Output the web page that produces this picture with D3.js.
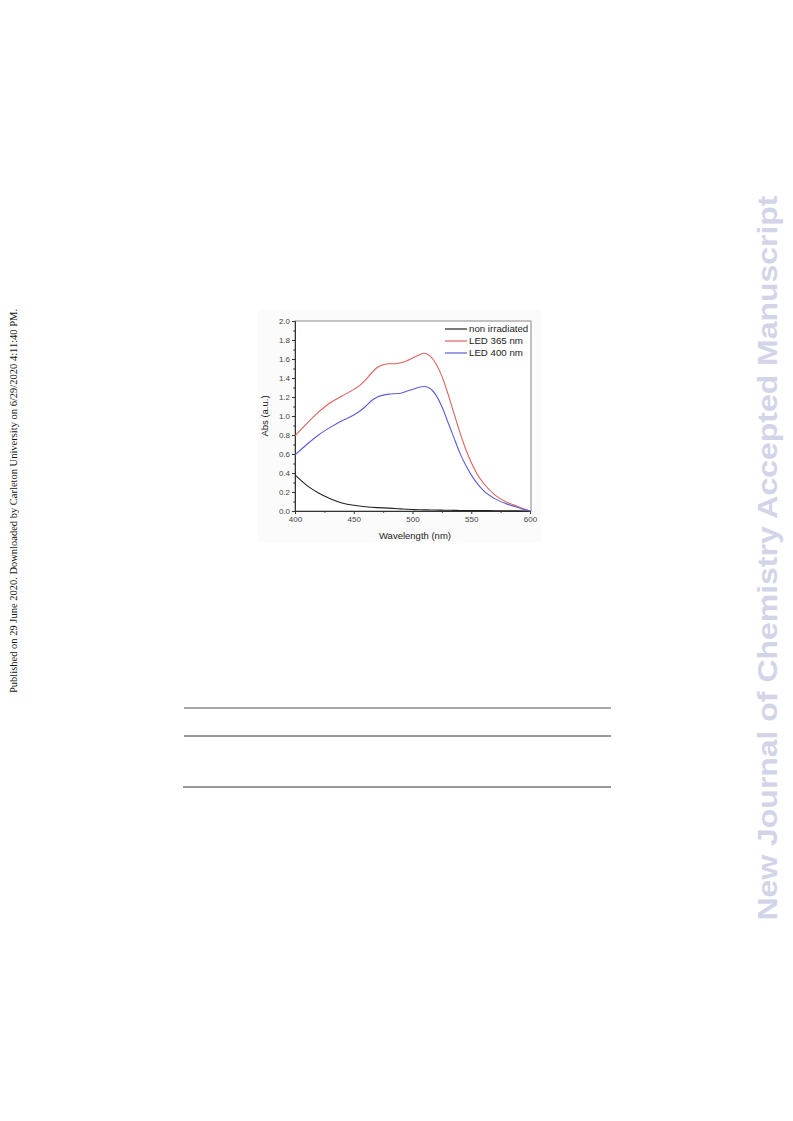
<!DOCTYPE html>
<html><head><meta charset="utf-8">
<script src="https://cdn.jsdelivr.net/npm/d3@7"></script>
<style>html,body{margin:0;padding:0;background:#fff;}svg{display:block;}</style>
</head><body>
<svg id="c" width="793" height="1121"></svg>
<script>
const wavelengths = [400,410,420,430,440,450,455,460,465,470,475,480,485,490,495,500,505,510,515,520,525,530,535,540,545,550,555,560,570,580,590,600];
const nonIrradiated = [0.38,0.27,0.19,0.13,0.085,0.06,0.052,0.045,0.04,0.036,0.033,0.03,0.026,0.022,0.018,0.015,0.013,0.012,0.011,0.01,0.009,0.008,0.007,0.006,0.0055,0.005,0.0045,0.004,0.003,0.002,0.001,0.0];
const led365 = [0.79,0.92,1.04,1.14,1.21,1.28,1.32,1.38,1.45,1.51,1.54,1.55,1.55,1.56,1.58,1.61,1.64,1.66,1.63,1.55,1.42,1.24,1.04,0.84,0.66,0.51,0.39,0.30,0.17,0.095,0.045,0.0];
const led400 = [0.59,0.70,0.80,0.88,0.95,1.01,1.05,1.10,1.16,1.20,1.22,1.23,1.235,1.24,1.26,1.28,1.30,1.31,1.29,1.22,1.10,0.94,0.78,0.62,0.49,0.38,0.29,0.22,0.13,0.075,0.035,0.0];
const seriesNames = ["non irradiated","LED 365 nm","LED 400 nm"];
const seriesColors = ["#222222","#e0605c","#5c5cd8"];
const xTicks = [400,450,500,550,600];
const yTicks = [0.0,0.2,0.4,0.6,0.8,1.0,1.2,1.4,1.6,1.8,2.0];

const svg = d3.select("#c");

// figure background
svg.append("rect").attr("x",258).attr("y",310).attr("width",283).attr("height",232).attr("fill","#fbfbfb");

const x = d3.scaleLinear().domain([400,600]).range([295,530]);
const y = d3.scaleLinear().domain([0,2]).range([511,321]);

// plot box
svg.append("rect").attr("x",295).attr("y",321).attr("width",236).attr("height",190)
  .attr("fill","#fff").attr("stroke","#888").attr("stroke-width",1);

const font = "Liberation Sans, Arial, sans-serif";

// y axis
const yAx = svg.append("g").attr("transform","translate(295,0)")
  .call(d3.axisLeft(y).tickValues(yTicks).tickFormat(d3.format(".1f")).tickSize(3).tickPadding(2));
yAx.selectAll("text").attr("font-size",8).attr("font-family",font).attr("fill","#444");
yAx.select(".domain").attr("stroke","#333");
yAx.selectAll("line").attr("stroke","#333");
svg.append("g").attr("transform","translate(295,0)")
  .call(d3.axisLeft(y).tickValues(d3.range(0.1,2.0,0.2)).tickFormat("").tickSize(1.8))
  .call(g=>{g.select(".domain").remove();g.selectAll("line").attr("stroke","#333");});

// x axis
const xAx = svg.append("g").attr("transform","translate(0,511)")
  .call(d3.axisBottom(x).tickValues(xTicks).tickFormat(d3.format("d")).tickSize(3).tickPadding(2));
xAx.selectAll("text").attr("font-size",8).attr("font-family",font).attr("fill","#444");
xAx.select(".domain").attr("stroke","#333");
xAx.selectAll("line").attr("stroke","#333");
svg.append("g").attr("transform","translate(0,511)")
  .call(d3.axisBottom(x).tickValues([425,475,525,575]).tickFormat("").tickSize(1.8))
  .call(g=>{g.select(".domain").remove();g.selectAll("line").attr("stroke","#333");});

// axis labels
svg.append("text").attr("x",415).attr("y",539).attr("text-anchor","middle")
  .attr("font-size",9.5).attr("font-family",font).attr("fill","#222").text("Wavelength (nm)");
svg.append("text").attr("transform","translate(268,416) rotate(-90)").attr("text-anchor","middle")
  .attr("font-size",9.5).attr("font-family",font).attr("fill","#222").text("Abs (a.u.)");

// lines
const line = d3.line().x((d,i)=>x(wavelengths[i])).y(d=>y(d)).curve(d3.curveMonotoneX);
[nonIrradiated, led365, led400].forEach((s,k)=>{
  svg.append("path").attr("d",line(s)).attr("fill","none")
    .attr("stroke",seriesColors[k]).attr("stroke-width",1.1);
});

// legend
seriesNames.forEach((n,k)=>{
  const yy = 329 + k*12;
  svg.append("line").attr("x1",445).attr("x2",467).attr("y1",yy).attr("y2",yy)
    .attr("stroke",seriesColors[k]).attr("stroke-width",1.2);
  svg.append("text").attr("x",469).attr("y",yy+3.4).attr("font-size",9.7)
    .attr("font-family",font).attr("fill","#222").text(n);
});

// left publication note
svg.append("text").attr("transform","translate(17,501) rotate(-90)").attr("text-anchor","middle")
  .attr("font-size",10.5).attr("font-family","Liberation Serif, Times New Roman, serif").attr("fill","#111")
  .text("Published on 29 June 2020. Downloaded by Carleton University on 6/29/2020 4:11:40 PM.");

// right watermark
svg.append("text").attr("transform","translate(777,558) rotate(-90)").attr("text-anchor","middle")
  .attr("font-size",27).attr("font-weight","bold").attr("font-family",font).attr("fill","#d2d4e7")
  .attr("textLength",725).attr("lengthAdjust","spacingAndGlyphs")
  .text("New Journal of Chemistry Accepted Manuscript");

// table rules
svg.append("line").attr("x1",184).attr("x2",611).attr("y1",708).attr("y2",708).attr("stroke","#8a8a8a").attr("stroke-width",1.3);
svg.append("line").attr("x1",184).attr("x2",611).attr("y1",736).attr("y2",736).attr("stroke","#333").attr("stroke-width",1);
svg.append("line").attr("x1",183).attr("x2",611).attr("y1",787).attr("y2",787).attr("stroke","#333").attr("stroke-width",1);
</script>
</body></html>
